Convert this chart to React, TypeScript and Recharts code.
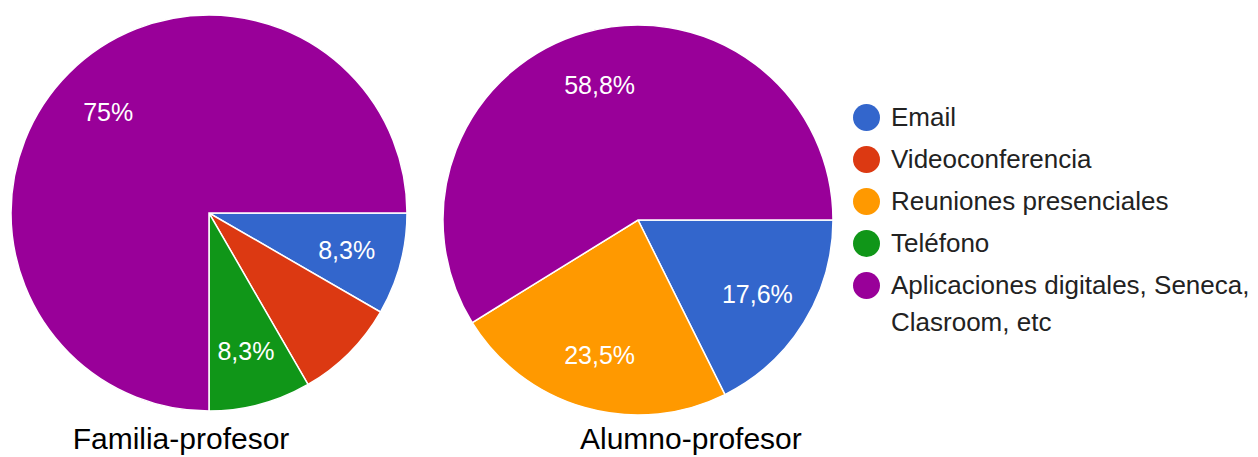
import { PieChart, Pie, Cell, Legend } from "recharts";

const categories = ["Email", "Videoconferencia", "Reuniones presenciales", "Teléfono", "Aplicaciones digitales, Seneca, Clasroom, etc"];
const colors = ["#3366cc", "#dc3912", "#ff9900", "#109618", "#990099"];

// respuestas por categoría (mismo orden que categories)
const familiaValues = [1, 1, 0, 1, 9];
const alumnoValues = [3, 0, 4, 0, 10];

// etiquetas que aparecen dentro de cada porción ("" = sin etiqueta)
const familiaLabels = ["8,3%", "", "", "8,3%", "75%"];
const alumnoLabels = ["17,6%", "", "23,5%", "", "58,8%"];

const titles = ["Familia-profesor", "Alumno-profesor"];

const FONT = "'Liberation Sans', Arial, sans-serif";
const RAD = Math.PI / 180;

const build = (values: number[], labels: string[]) =>
  categories
    .map((name, i) => ({ name, value: values[i], label: labels[i], color: colors[i] }))
    .filter((d) => d.value > 0);

const familiaData = build(familiaValues, familiaLabels);
const alumnoData = build(alumnoValues, alumnoLabels);

const renderLabel = (props: any) => {
  const { cx, cy, midAngle, outerRadius, payload } = props;
  if (!payload.label) return null;
  const r = outerRadius * 0.72;
  const x = cx + r * Math.cos(-midAngle * RAD);
  const y = cy + r * Math.sin(-midAngle * RAD);
  return (
    <text x={x} y={y} fill="#ffffff" fontSize={25} fontFamily={FONT} textAnchor="middle" dominantBaseline="central">
      {payload.label}
    </text>
  );
};

const renderLegend = () => (
  <div style={{ fontFamily: FONT, fontSize: 26, color: "#222222" }}>
    {categories.map((c, i) => (
      <div key={c} style={{ display: "flex", alignItems: "flex-start", marginBottom: 5, lineHeight: "37px" }}>
        <span
          style={{
            display: "inline-block", width: 27, height: 27, borderRadius: "50%",
            background: colors[i], marginTop: 5, marginRight: 11, flexShrink: 0,
          }}
        />
        <span style={{ width: 366 }}>{c}</span>
      </div>
    ))}
  </div>
);

export default function App() {
  return (
    <div style={{ position: "absolute", left: 0, top: 0, width: 1258, height: 457, background: "#fff", overflow: "hidden" }}>
      <PieChart width={1258} height={457} margin={{ top: 0, right: 0, bottom: 0, left: 0 }}>
        <Pie
          data={familiaData} dataKey="value" nameKey="name"
          cx={209} cy={213} outerRadius={198} startAngle={0} endAngle={-360}
          stroke="#ffffff" strokeWidth={1.5} label={renderLabel} labelLine={false}
          isAnimationActive={false}
        >
          {familiaData.map((d) => <Cell key={d.name} fill={d.color} />)}
        </Pie>
        <Pie
          data={alumnoData} dataKey="value" nameKey="name"
          cx={638} cy={220} outerRadius={195} startAngle={0} endAngle={-360}
          stroke="#ffffff" strokeWidth={1.5} label={renderLabel} labelLine={false}
          isAnimationActive={false}
        >
          {alumnoData.map((d) => <Cell key={d.name} fill={d.color} />)}
        </Pie>
        <Legend content={renderLegend} wrapperStyle={{ left: 853, top: 99, width: 405 }} />
      </PieChart>
      {titles.map((t, i) => (
        <div
          key={t}
          style={{
            position: "absolute", top: 424, left: i === 0 ? 71 : 580, width: 220, textAlign: "center",
            fontFamily: FONT, fontSize: 30, color: "#000", whiteSpace: "nowrap", lineHeight: "30px",
          }}
        >
          {t}
        </div>
      ))}
    </div>
  );
}
